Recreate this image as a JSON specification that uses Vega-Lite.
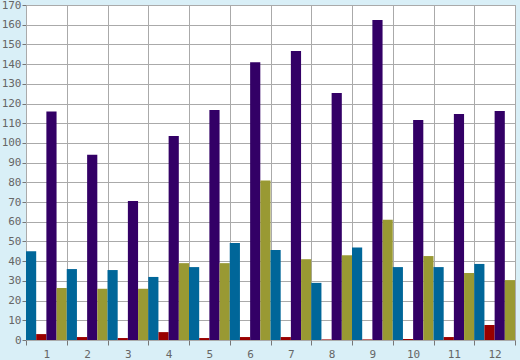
{
  "$schema": "https://vega.github.io/schema/vega-lite/v6.json",
  "width": 489,
  "height": 335,
  "autosize": "none",
  "padding": {"left": 26, "top": 5, "right": 5, "bottom": 20},
  "background": "#d9eff7",
  "config": {
    "view": {"fill": "white", "stroke": "#aaaaaa", "strokeWidth": 1},
    "axis": {"labelFont": "DejaVu Sans Mono", "labelFontSize": 11, "labelColor": "#666666", "gridColor": "#aaaaaa", "gridOpacity": 1, "domainColor": "#aaaaaa", "tickColor": "#777777", "title": null}
  },
  "data": {"values": [
    {"g": "1", "s": "a", "v": 45}, {"g": "1", "s": "b", "v": 3}, {"g": "1", "s": "c", "v": 116}, {"g": "1", "s": "d", "v": 26.4},
    {"g": "2", "s": "a", "v": 36}, {"g": "2", "s": "b", "v": 1.5}, {"g": "2", "s": "c", "v": 94}, {"g": "2", "s": "d", "v": 26},
    {"g": "3", "s": "a", "v": 35.5}, {"g": "3", "s": "b", "v": 1}, {"g": "3", "s": "c", "v": 70.5}, {"g": "3", "s": "d", "v": 26},
    {"g": "4", "s": "a", "v": 32}, {"g": "4", "s": "b", "v": 4}, {"g": "4", "s": "c", "v": 103.5}, {"g": "4", "s": "d", "v": 39},
    {"g": "5", "s": "a", "v": 37}, {"g": "5", "s": "b", "v": 1}, {"g": "5", "s": "c", "v": 116.7}, {"g": "5", "s": "d", "v": 39},
    {"g": "6", "s": "a", "v": 49.2}, {"g": "6", "s": "b", "v": 1.5}, {"g": "6", "s": "c", "v": 141}, {"g": "6", "s": "d", "v": 81},
    {"g": "7", "s": "a", "v": 45.7}, {"g": "7", "s": "b", "v": 1.5}, {"g": "7", "s": "c", "v": 146.7}, {"g": "7", "s": "d", "v": 41},
    {"g": "8", "s": "a", "v": 29}, {"g": "8", "s": "b", "v": 0.3}, {"g": "8", "s": "c", "v": 125.3}, {"g": "8", "s": "d", "v": 43},
    {"g": "9", "s": "a", "v": 47}, {"g": "9", "s": "b", "v": 0.3}, {"g": "9", "s": "c", "v": 162.4}, {"g": "9", "s": "d", "v": 61},
    {"g": "10", "s": "a", "v": 37}, {"g": "10", "s": "b", "v": 0.5}, {"g": "10", "s": "c", "v": 111.7}, {"g": "10", "s": "d", "v": 42.6},
    {"g": "11", "s": "a", "v": 37}, {"g": "11", "s": "b", "v": 1.5}, {"g": "11", "s": "c", "v": 114.7}, {"g": "11", "s": "d", "v": 34},
    {"g": "12", "s": "a", "v": 38.6}, {"g": "12", "s": "b", "v": 7.6}, {"g": "12", "s": "c", "v": 116.2}, {"g": "12", "s": "d", "v": 30.4}
  ]},
  "mark": {"type": "bar"},
  "encoding": {
    "x": {"field": "g", "type": "ordinal", "sort": null,
      "scale": {"paddingInner": 0, "paddingOuter": 0},
      "axis": {"labelAngle": 0, "grid": true, "tickBand": "extent", "tickSize": 5, "labelPadding": 3, "domain": false}},
    "xOffset": {"field": "s", "type": "nominal", "sort": ["a", "b", "c", "d"], "scale": {"paddingInner": 0, "paddingOuter": 0}},
    "y": {"field": "v", "type": "quantitative",
      "scale": {"domain": [0, 170], "nice": false},
      "axis": {"values": [0,10,20,30,40,50,60,70,80,90,100,110,120,130,140,150,160,170], "tickSize": 4, "labelPadding": 1, "grid": true}},
    "color": {"field": "s", "type": "nominal", "legend": null,
      "scale": {"domain": ["a", "b", "c", "d"], "range": ["#006699", "#990000", "#330066", "#999933"]}}
  }
}
